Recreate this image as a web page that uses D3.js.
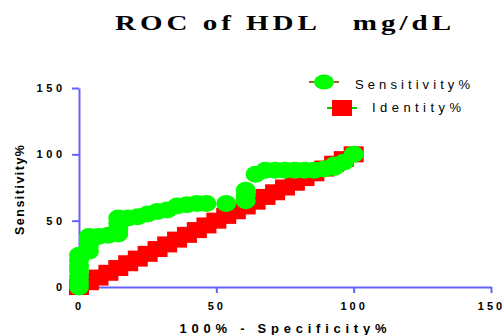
<!DOCTYPE html>
<html>
<head>
<meta charset="utf-8">
<script src="https://cdn.jsdelivr.net/npm/d3@7"></script>
<style>
  body { margin: 0; background: #fff; }
  svg { display: block; }
  text { font-family: "Liberation Sans", Arial, sans-serif; font-weight: bold; }
</style>
</head>
<body>
<svg id="chart"></svg>
<script>
//define constants
const svgWidth = 504;
const svgHeight = 335;
const axisColor = '#6262ff';

//define data
const rocX = [0, 0, 0, 0, 0, 0, 0,
  3.6, 3.6, 3.6, 3.6, 7.1, 10.7,
  14.3, 14.3, 14.3, 14.3, 17.9, 21.4, 25, 28.6, 32.1, 35.7, 39.3, 42.9, 46.4, 53.6,
  60.7, 60.7, 60.7, 64.3, 67.9, 71.4, 75, 78.6, 82.1, 85.7, 89.3, 92.9, 92.9, 96.4, 100];
const rocY = [0, 4, 8, 12, 16, 20, 24,
  27, 31, 35, 38, 38, 39,
  40, 44, 48, 52, 52, 53, 55, 57, 58, 61, 62, 63, 63, 63,
  65, 69, 73, 85, 88, 88, 88, 88, 88, 88, 89, 90, 92, 94, 100];
const identity = [0, 3.6, 7.1, 10.7, 14.3, 17.9, 21.4, 25, 28.6, 32.1, 35.7, 39.3, 42.9, 46.4,
  50, 53.6, 57.1, 60.7, 64.3, 67.9, 71.4, 75, 78.6, 82.1, 85.7, 89.3, 92.9, 96.4, 100];
const ticks = [0, 50, 100, 150];
const seriesNames = ['Sensitivity%', 'Identity%'];

//configure svg window
var svg = d3.select('#chart')
  .attr('width', svgWidth)
  .attr('height', svgHeight);

//define scales
var xScale = d3.scaleLinear().domain([0, 150]).range([79, 491]);
var yScale = d3.scaleLinear().domain([0, 150]).range([287, 88]);

//title (stretched wide like the original)
svg.append('text')
  .attr('x', 115)
  .attr('y', 30)
  .attr('textLength', 340)
  .attr('lengthAdjust', 'spacingAndGlyphs')
  .style('font-family', '"Liberation Serif", "Times New Roman", serif')
  .style('font-size', '22px')
  .style('letter-spacing', '3px')
  .style('white-space', 'pre')
  .text('ROC of HDL   mg/dL');

//axes
var xAxis = d3.axisBottom(xScale).tickValues(ticks).tickSize(6).tickSizeOuter(0).tickPadding(9);
var yAxis = d3.axisLeft(yScale).tickValues(ticks).tickSize(7).tickSizeOuter(0).tickPadding(10);

var gx = svg.append('g')
  .attr('transform', `translate(0, ${yScale(0)})`)
  .call(xAxis);
var gy = svg.append('g')
  .attr('transform', `translate(${xScale(0)}, 0)`)
  .call(yAxis);

[gx, gy].forEach(g => {
  g.select('.domain').attr('stroke', axisColor).attr('stroke-width', 2);
  g.selectAll('.tick line').attr('stroke', axisColor).attr('stroke-width', 2);
  g.selectAll('.tick text')
    .attr('fill', '#000')
    .style('font-size', '11px')
    .style('font-family', '"Liberation Sans", Arial, sans-serif')
    .style('font-weight', 'bold')
    .style('letter-spacing', '3.6px');
});
gx.selectAll('.tick text').style('letter-spacing', '3px');
gy.selectAll('.tick text').attr('dx', '3.6px');

//axis labels
svg.append('text')
  .text('100% - Specificity%')
  .attr('transform', `translate(${283}, ${333})`)
  .attr('text-anchor', 'middle')
  .attr('textLength', 207)
  .attr('lengthAdjust', 'spacing')
  .style('font-size', '13px');
svg.append('text')
  .text('Sensitivity%')
  .attr('transform', `translate(${24}, ${190}) rotate(-90)`)
  .attr('text-anchor', 'middle')
  .attr('textLength', 90)
  .attr('lengthAdjust', 'spacing')
  .style('font-size', '12.5px');

//identity squares
svg.append('g')
  .selectAll('rect')
  .data(identity)
  .enter()
  .append('rect')
    .attr('x', d => xScale(d) - 10)
    .attr('y', d => yScale(d) - 8)
    .attr('width', 20)
    .attr('height', 16)
    .attr('fill', '#ff0000');

//roc points
var rocData = rocX.map((x, i) => ({x: x, y: rocY[i]}));
svg.append('g')
  .selectAll('ellipse')
  .data(rocData)
  .enter()
  .append('ellipse')
    .attr('cx', d => xScale(d.x))
    .attr('cy', d => yScale(d.y))
    .attr('rx', 10)
    .attr('ry', 8.5)
    .attr('fill', '#00ff00');

//legend
var legend = svg.append('g');
legend.append('line')
  .attr('x1', 309).attr('x2', 339).attr('y1', 82).attr('y2', 82)
  .attr('stroke', '#9a6a2a').attr('stroke-width', 2);
legend.append('ellipse')
  .attr('cx', 324).attr('cy', 82).attr('rx', 10).attr('ry', 7.5)
  .attr('fill', '#00ff00');
legend.append('text')
  .attr('x', 355).attr('y', 89)
  .attr('textLength', 115)
  .attr('lengthAdjust', 'spacing')
  .style('font-weight', 'normal')
  .style('font-size', '13px')
  .text(seriesNames[0]);

legend.append('line')
  .attr('x1', 327).attr('x2', 357).attr('y1', 108).attr('y2', 108)
  .attr('stroke', '#00cc00').attr('stroke-width', 2);
legend.append('rect')
  .attr('x', 332).attr('y', 100).attr('width', 20).attr('height', 16)
  .attr('fill', '#ff0000');
legend.append('text')
  .attr('x', 372).attr('y', 112)
  .attr('textLength', 89)
  .attr('lengthAdjust', 'spacing')
  .style('font-weight', 'normal')
  .style('font-size', '13px')
  .text(seriesNames[1]);
</script>
</body>
</html>
